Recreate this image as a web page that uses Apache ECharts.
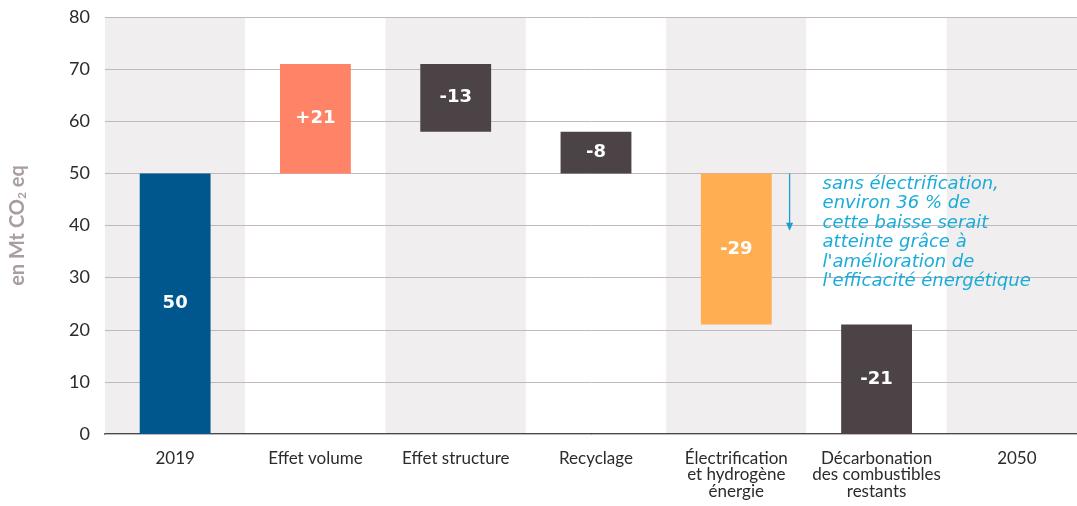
<!DOCTYPE html>
<html>
<head>
<meta charset="utf-8">
<script src="https://cdn.jsdelivr.net/npm/echarts@6/dist/echarts.min.js"></script>
<style>
  html, body { margin: 0; padding: 0; background: #ffffff; }
  #chart { width: 1077px; height: 506px; }
</style>
</head>
<body>
<div id="chart"></div>
<script>
// Waterfall of emissions, 2019 to 2050
const categories = [
  '2019',
  'Effet volume',
  'Effet structure',
  'Recyclage',
  'Électrification\net hydrogène\nénergie',
  'Décarbonation\ndes combustibles\nrestants',
  '2050'
];
// First entry is the starting level, the others are changes
const deltas = [50, 21, -13, -8, -29, -21, 0];
const barLabels = ['50', '+21', '-13', '-8', '-29', '-21', ''];
const barColors = ['#00578E', '#FF8366', '#4B4346', '#4B4346', '#FFAE52', '#4B4346', '#00578E'];
const yTicks = { min: 0, max: 80, interval: 10 };
const noteLines = [
  'sans électrification,',
  'environ 36 % de',
  'cette baisse serait',
  'atteinte grâce à',
  "l'amélioration de",
  "l'efficacité énergétique"
];
const noteArrow = { category: 4, from: 50, to: 39 };

// Running totals -> invisible base + visible segment
const bases = [];
const heights = [];
let level = 0;
deltas.forEach((d, i) => {
  if (i === 0) {
    bases.push(0); heights.push(d); level = d;
  } else {
    const next = level + d;
    bases.push(Math.min(level, next));
    heights.push(Math.abs(d));
    level = next;
  }
});

const chart = echarts.init(document.getElementById('chart'), null, { renderer: 'canvas' });

const option = {
  animation: false,
  grid: { left: 105, right: -10, top: 17, bottom: 72, outerBoundsMode: 'none', containLabel: false },
  xAxis: {
    type: 'category',
    data: categories,
    axisLine: { show: true, lineStyle: { color: '#4a4a4a', width: 2 } },
    axisTick: { show: false },
    axisLabel: {
      interval: 0,
      margin: 16,
      fontFamily: 'Lato',
      fontSize: 17,
      lineHeight: 16.5,
      color: '#2b2b2b'
    },
    splitArea: {
      show: true,
      interval: 0,
      areaStyle: { color: ['#F0EEEF', '#FFFFFF'] }
    },
    z: 0
  },
  yAxis: {
    type: 'value',
    min: yTicks.min,
    max: yTicks.max,
    interval: yTicks.interval,
    axisLine: { show: false },
    axisTick: { show: false },
    axisLabel: {
      margin: 15,
      fontFamily: 'Lato',
      fontSize: 18,
      color: '#2b2b2b'
    },
    splitLine: { show: true, lineStyle: { color: '#C2B7BB', width: 1 } },
    name: 'en Mt CO{sub|2} eq',
    nameLocation: 'middle',
    nameGap: 77,
    nameRotate: 90,
    nameTextStyle: {
      fontFamily: 'Lato',
      fontWeight: 'bold',
      fontSize: 20,
      color: '#A99DA1',
      rich: {
        sub: { fontFamily: 'Lato', fontWeight: 'bold', fontSize: 12, color: '#A99DA1', verticalAlign: 'bottom', padding: [9, 0, 0, 0] }
      }
    },
    z: 1
  },
  series: [
    {
      type: 'bar',
      stack: 'w',
      data: bases,
      barWidth: '50.5%',
      itemStyle: { color: 'rgba(0,0,0,0)' },
      silent: true
    },
    {
      type: 'bar',
      stack: 'w',
      data: heights.map((h, i) => ({
        value: h,
        itemStyle: { color: barColors[i] },
        label: { show: h !== 0, formatter: barLabels[i] }
      })),
      barWidth: '50.5%',
      label: {
        position: 'inside',
        color: '#ffffff',
        fontFamily: 'DejaVu Sans',
        fontWeight: 'bold',
        fontSize: 18
      }
    }
  ]
};

chart.setOption(option);

// Annotation arrow and note, placed through the axes
function placeNote() {
  const top = chart.convertToPixel({ gridIndex: 0 }, [noteArrow.category, noteArrow.from]);
  const end = chart.convertToPixel({ gridIndex: 0 }, [noteArrow.category, noteArrow.to]);
  const next = chart.convertToPixel({ gridIndex: 0 }, [noteArrow.category + 1, noteArrow.from]);
  const band = next[0] - top[0];
  const ax = top[0] + band * 0.38;
  chart.setOption({
    graphic: [
      {
        type: 'line',
        shape: { x1: ax, y1: top[1], x2: ax, y2: end[1] - 6 },
        style: { stroke: '#1E9CD0', lineWidth: 1.3 },
        z: 10
      },
      {
        type: 'polygon',
        shape: { points: [[ax - 3.5, end[1] - 8], [ax + 3.5, end[1] - 8], [ax, end[1]]] },
        style: { fill: '#1E9CD0' },
        z: 10
      },
      {
        type: 'text',
        left: ax + 33,
        top: top[1] + 1,
        style: {
          text: noteLines.join('\n'),
          fontFamily: 'DejaVu Sans',
          fontStyle: 'italic',
          fontSize: 18,
          lineHeight: 19.5,
          fill: '#19ACD8'
        },
        z: 10
      }
    ]
  });
}
placeNote();
</script>
</body>
</html>
